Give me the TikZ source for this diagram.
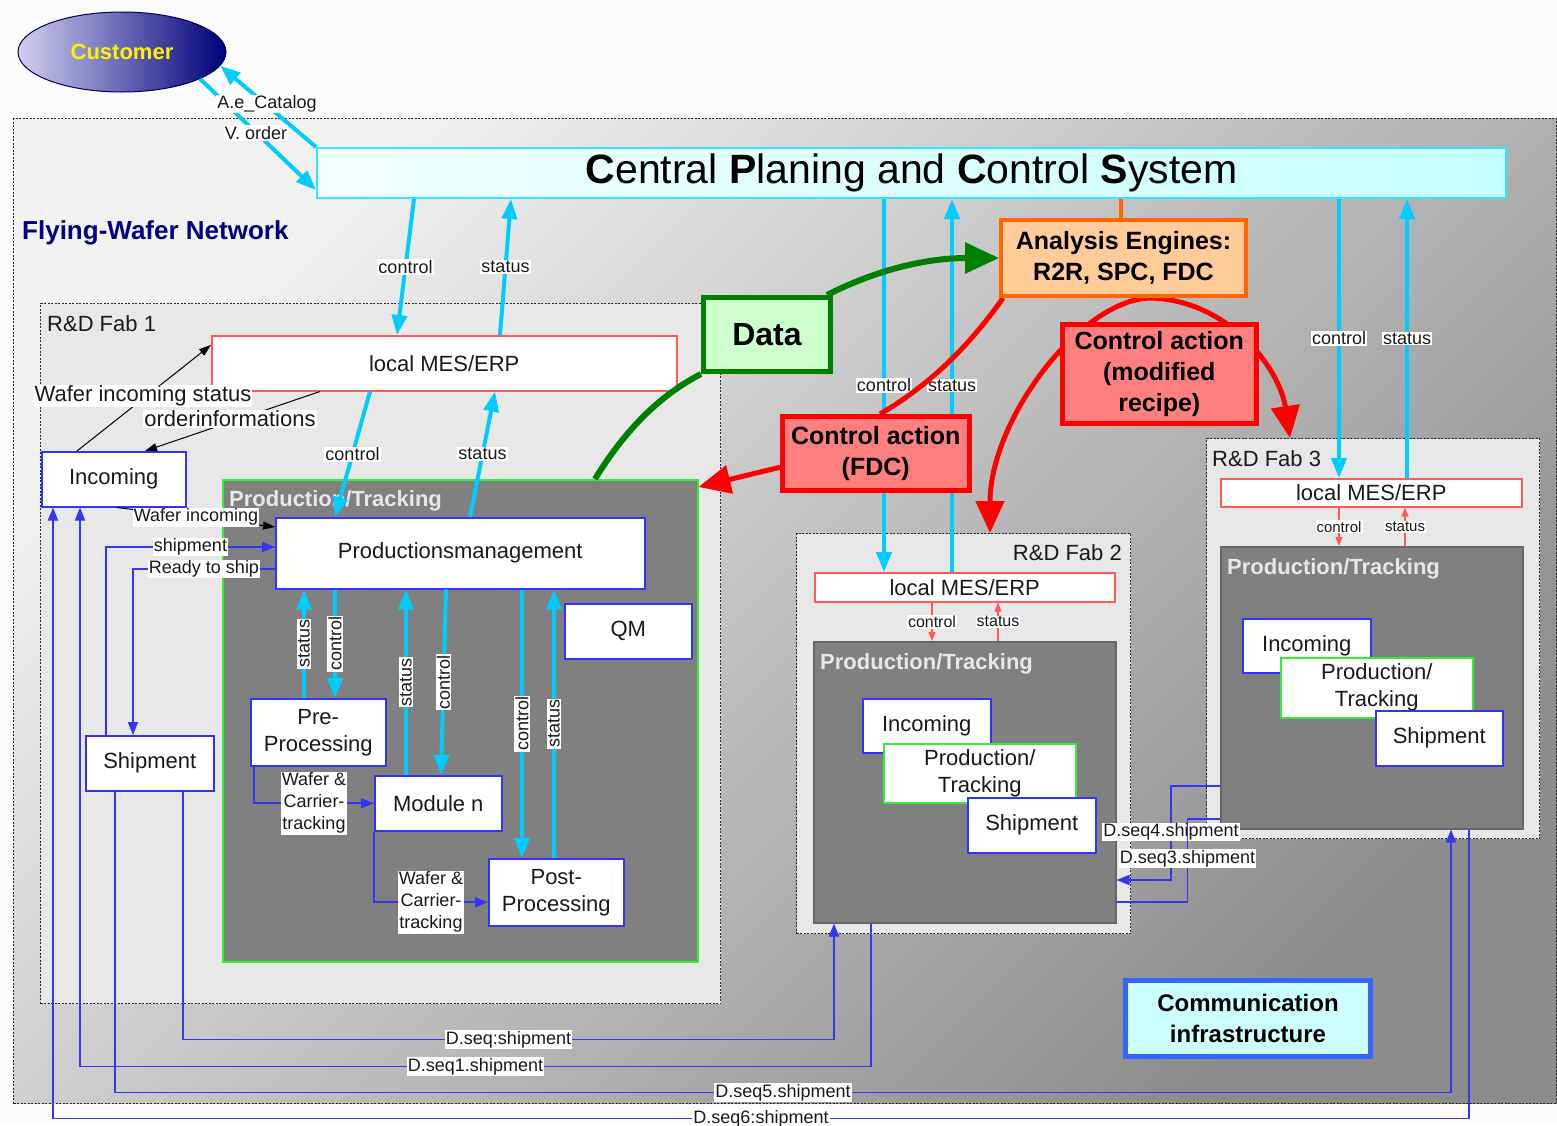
\documentclass[tikz,border=0pt]{standalone}
\usepackage{fontspec}
\setmainfont{Liberation Sans}
\usetikzlibrary{arrows.meta,shapes.geometric}
\pgfdeclarelayer{top}
\pgfsetlayers{main,top}
\definecolor{cy}{HTML}{00CCFF}
\definecolor{bordblue}{HTML}{3333FF}
\definecolor{lnblue}{HTML}{3535F5}
\definecolor{mesred}{HTML}{FF5A5A}
\definecolor{fabfill}{HTML}{E8E8E8}
\definecolor{prodfill}{HTML}{808080}
\definecolor{lgreen}{HTML}{33EE33}
\definecolor{dgreen}{HTML}{007F00}
\definecolor{datafill}{HTML}{CCFFCC}
\definecolor{anafill}{HTML}{FFCC99}
\definecolor{anaborder}{HTML}{FF6600}
\definecolor{salmon}{HTML}{FF7F7F}
\definecolor{commfill}{HTML}{CCFFFF}
\definecolor{commborder}{HTML}{3366FF}
\definecolor{netA}{HTML}{F2F2F2}
\definecolor{netB}{HTML}{ABABAB}
\definecolor{netC}{HTML}{8C8C8C}
\definecolor{cpsA}{HTML}{F2FFFF}
\definecolor{cpsB}{HTML}{C6FFFF}
\definecolor{cpsborder}{HTML}{33E6FF}
\definecolor{custA}{HTML}{D0D0F0}
\definecolor{custB}{HTML}{00007A}
\definecolor{navy}{HTML}{000080}
\definecolor{txt}{HTML}{1A1A1A}
\definecolor{ptlabel}{HTML}{E8E8E8}
\newcommand\fsz[2]{\fontsize{#1}{#2}\selectfont}
\begin{document}
\begin{tikzpicture}[x=1pt,y=-1pt,
  wbox/.style={draw=bordblue, fill=white, line width=1.5pt, inner sep=0pt, anchor=north west, font=\fsz{22}{27}, align=center, text=txt},
  mesbox/.style={draw=mesred, fill=white, line width=1.5pt, inner sep=0pt, anchor=north west, font=\fsz{22}{27}, text=txt},
  fabbox/.style={draw=black!85, dash pattern=on 2pt off 1.5pt, line width=1.1pt, fill=fabfill, anchor=north west, inner sep=0pt},
  prodbox/.style={fill=prodfill, line width=1.5pt, anchor=north west, inner sep=0pt},
  ptlbl/.style={anchor=base west, text=ptlabel, font=\fsz{22}{26}\bfseries, inner sep=0pt},
  fablbl/.style={font=\fsz{22}{26}, text=txt, inner sep=0pt},
  lbl/.style={fill=white, inner sep=1pt, font=\fsz{18}{22}, text=txt, align=center},
  lblsm/.style={fill=white, inner sep=1pt, font=\fsz{16}{19}, text=txt},
  cyarr/.style={draw=cy, line width=4pt, -{Triangle[length=20pt,width=15pt]}},
  bluearr/.style={draw=lnblue, line width=1.8pt, -{Triangle[length=13pt,width=10pt]}},
  blueln/.style={draw=lnblue, line width=1.8pt},
  blackarr/.style={draw=black, line width=1pt, -{Triangle[length=12pt,width=8pt]}},
  redsm/.style={draw=mesred, line width=1.3pt, -{Triangle[length=9pt,width=7pt]}},
  redthick/.style={draw=red, line width=5pt, -{Triangle[length=32pt,width=28pt]}},
  bigbox/.style={line width=4.5pt, inner sep=0pt, anchor=north west, align=center, text=black, font=\fsz{25}{31}\bfseries},
]
\fill[white!97!gray] (0,0) rectangle (1557,1125);
\useasboundingbox (0,0) rectangle (1557,1125);

% network area
\node[anchor=north west, inner sep=0pt, minimum width=1543pt, minimum height=985pt,
  top color=netA, middle color=netB, bottom color=netC, shading angle=45,
  draw=black!85, dash pattern=on 2pt off 1.5pt, line width=1.3pt] (net) at (13,118) {};
\node[anchor=base west, inner sep=0pt, text=navy, font=\fsz{26}{30}\bfseries] (fwn) at (22,239) {Flying-Wafer Network};

% fabs
\node[fabbox, minimum width=680pt, minimum height=700pt] (fab1) at (40,303) {};
\node[fablbl, anchor=base west] (fab1l) at (47,331) {R\&D Fab 1};
\node[fabbox, minimum width=334pt, minimum height=400pt] (fab2) at (796,533) {};
\node[fablbl, anchor=base east] (fab2l) at (1122,560) {R\&D Fab 2};
\node[fabbox, minimum width=333pt, minimum height=400pt] (fab3) at (1206,438) {};
\node[fablbl, anchor=base west] (fab3l) at (1212,466) {R\&D Fab 3};

% fab 1 contents
\node[mesbox, minimum width=465pt, minimum height=55pt] (mes1) at (211,335) {local MES/ERP};
\node[wbox, minimum width=144pt, minimum height=55pt] (inc1) at (41,451) {Incoming};
\node[wbox, minimum width=128pt, minimum height=55pt] (ship1) at (85,735) {Shipment};
\node[prodbox, draw=lgreen, minimum width=475pt, minimum height=482pt] (prod1) at (222,479) {};
\node[ptlbl] (prod1l) at (229,506) {Production/Tracking};
\node[wbox, minimum width=369pt, minimum height=71pt] (pm) at (275,517) {Productionsmanagement};
\node[wbox, minimum width=127pt, minimum height=55pt] (qm) at (564,603) {QM};
\node[wbox, minimum width=135pt, minimum height=67pt] (pre) at (250,698) {Pre-\\Processing};
\node[wbox, minimum width=127pt, minimum height=55pt] (mod) at (374,775) {Module n};
\node[wbox, minimum width=135pt, minimum height=67pt] (post) at (488,858) {Post-\\Processing};

% fab 2 contents
\node[mesbox, minimum width=300pt, minimum height=29pt] (mes2) at (814,572) {local MES/ERP};
\node[prodbox, draw=black!60, minimum width=302pt, minimum height=281pt] (prod2) at (813,641) {};
\node[ptlbl] (prod2l) at (820,669) {Production/Tracking};
\node[wbox, minimum width=128pt, minimum height=54pt] (inc2) at (862,698) {Incoming};
\node[wbox, draw=lgreen, minimum width=192pt, minimum height=59pt] (pt2) at (883,743) {Production/\\Tracking};
\node[wbox, minimum width=128pt, minimum height=55pt] (sh2) at (967,797) {Shipment};

% fab 3 contents
\node[mesbox, minimum width=301pt, minimum height=28pt] (mes3) at (1220,478) {local MES/ERP};
\node[prodbox, draw=black!60, minimum width=302pt, minimum height=282pt] (prod3) at (1220,546) {};
\node[ptlbl] (prod3l) at (1227,574) {Production/Tracking};
\node[wbox, minimum width=128pt, minimum height=54pt] (inc3) at (1242,618) {Incoming};
\node[wbox, draw=lgreen, minimum width=192pt, minimum height=60pt] (pt3) at (1280,657) {Production/\\Tracking};
\node[wbox, minimum width=127pt, minimum height=55pt] (sh3) at (1375,710) {Shipment};

% central system and customer
\node[anchor=north west, inner sep=0pt, minimum width=1189pt, minimum height=50pt,
  left color=cpsA, right color=cpsB, draw=cpsborder, line width=2pt,
  font=\fsz{41}{44}, text=black] (cps) at (316,147)
  {{\bfseries C}entral {\bfseries P}laning and {\bfseries C}ontrol {\bfseries S}ystem};
\node[ellipse, minimum width=208pt, minimum height=80pt, inner sep=0pt,
  left color=custA, right color=custB, draw=custB!70!black, line width=1pt,
  text=yellow, font=\fsz{22}{26}\bfseries] (cust) at (122,52) {Customer};

% boxes on the top layer
\begin{pgfonlayer}{top}
\node[bigbox, draw=dgreen, fill=datafill, line width=5pt, minimum width=127pt, minimum height=74pt, font=\fsz{32}{36}\bfseries] (data) at (701,295) {Data};
\node[bigbox, draw=anaborder, fill=anafill, line width=4pt, minimum width=245pt, minimum height=76pt] (ana) at (999,218) {Analysis Engines:\\R2R, SPC, FDC};
\node[bigbox, draw=red, fill=salmon, minimum width=187pt, minimum height=74pt] (fdc) at (780,414) {Control action\\(FDC)};
\node[bigbox, draw=red, fill=salmon, minimum width=194pt, minimum height=99pt] (rec) at (1060,322) {Control action\\(modified\\recipe)};
\node[bigbox, draw=commborder, fill=commfill, line width=5pt, minimum width=245pt, minimum height=76pt, font=\fsz{24}{31}\bfseries] (comm) at (1123,978) {Communication\\infrastructure};
\end{pgfonlayer}

% customer <-> central
\draw[cyarr] (cust.-19) -- ([yshift=9pt]cps.south west);
\draw[cyarr] (cps.north west) -- (cust.-8);
\node[lbl] (lcat) at (267,104) {A.e\_Catalog};
\node[lbl] (lvo) at (256,133) {V. order};

% central <-> fab 1
\draw[cyarr] ([xshift=98pt]cps.south west) -- node[lbl]{control} ([xshift=186pt]mes1.north west);
\draw[cyarr] ([xshift=289pt]mes1.north west) -- node[lbl]{status} ([xshift=195pt]cps.south west);

% incoming <-> mes1
\draw[blackarr] ([xshift=36pt]inc1.north west) -- ([yshift=-10pt]mes1.north west);
\draw[blackarr] ([xshift=109pt]mes1.south west) -- ([xshift=104pt]inc1.north west);
\node[lbl, font=\fsz{22}{26}] (lwis) at (143,396) {Wafer incoming status};
\node[lbl, font=\fsz{22}{26}] (lord) at (230,419) {orderinformations};

% mes1 <-> pm
\draw[cyarr] ([xshift=159pt]mes1.south west) -- node[lbl]{control} ([xshift=60pt]pm.north west);
\draw[cyarr] ([xshift=195pt]pm.north west) -- node[lbl]{status} ([xshift=284pt]mes1.south west);

% incoming / shipment <-> pm
\draw[blackarr] ([xshift=76pt]inc1.south west) -- node[lbl, pos=0.5]{Wafer incoming} ([yshift=-10pt]pm.north west);
\draw[bluearr] ([xshift=21pt]ship1.north west) |- node[lbl, pos=0.75]{shipment} ([yshift=-30pt]pm.north west);
\draw[bluearr] ([yshift=-52pt]pm.north west) -| node[lbl, pos=0.25]{Ready to ship} ([xshift=48pt]ship1.north west);

% pm <-> modules
\draw[cyarr] ([xshift=54pt]pre.north west) -- node[lbl, rotate=90]{status} ([xshift=29pt]pm.south west);
\draw[cyarr] ([xshift=60pt]pm.south west) -- node[lbl, rotate=90]{control} ([xshift=85pt]pre.north west);
\draw[cyarr] ([xshift=32pt]mod.north west) -- node[lbl, rotate=90]{status} ([xshift=131pt]pm.south west);
\draw[cyarr] ([xshift=171pt]pm.south west) -- node[lbl, rotate=90]{control} ([xshift=67pt]mod.north west);
\draw[cyarr] ([xshift=247pt]pm.south west) -- node[lbl, rotate=90]{control} ([xshift=34pt]post.north west);
\draw[cyarr] ([xshift=66pt]post.north west) -- node[lbl, rotate=90]{status} ([xshift=279pt]pm.south west);

% wafer & carrier tracking
\draw[bluearr] ([xshift=4pt]pre.south west) |- node[lbl, pos=0.75]{Wafer \&\\Carrier-\\tracking} (mod.west);
\draw[bluearr] (mod.south west) |- node[lbl, pos=0.75]{Wafer \&\\Carrier-\\tracking} ([yshift=-10pt]post.west);

% central <-> fab 2 / fab 3
\draw[cyarr] ([xshift=568pt]cps.south west) -- node[lbl]{control} ([xshift=70pt]mes2.north west);
\draw[cyarr] ([xshift=138pt]mes2.north west) -- node[lbl]{status} ([xshift=636pt]cps.south west);
\draw[cyarr] ([xshift=1023pt]cps.south west) -- node[lbl]{control} ([xshift=119pt]mes3.north west);
\draw[cyarr] ([xshift=187pt]mes3.north west) -- node[lbl]{status} ([xshift=1091pt]cps.south west);

% local mes <-> production
\draw[redsm] ([xshift=118pt]mes2.south west) -- node[lblsm]{control} ([xshift=119pt]prod2.north west);
\draw[redsm] ([xshift=185pt]prod2.north west) -- node[lblsm]{status} ([xshift=184pt]mes2.south west);
\draw[redsm] ([xshift=119pt]mes3.south west) -- node[lblsm, font=\fsz{15}{18}]{control} ([xshift=119pt]prod3.north west);
\draw[redsm] ([xshift=185pt]prod3.north west) -- node[lblsm, font=\fsz{15}{18}]{status} ([xshift=185pt]mes3.south west);

% shipments between fabs
\draw[bluearr] ([xshift=98pt]ship1.south west) -- ++(0,248) -| node[lbl, pos=0.25]{D.seq:shipment} ([xshift=21pt]prod2.south west);
\draw[bluearr] ([xshift=58pt]prod2.south west) -- ++(0,143) -| node[lbl, pos=0.25]{D.seq1.shipment} ([xshift=39pt]inc1.south west);
\draw[bluearr] ([xshift=30pt]ship1.south west) -- ++(0,301) -| node[lbl, pos=0.25]{D.seq5.shipment} ([xshift=231pt]prod3.south west);
\draw[bluearr] ([xshift=249pt]prod3.south west) -- ++(0,289) -| node[lbl, pos=0.25]{D.seq6:shipment} ([xshift=12pt]inc1.south west);
\draw[bluearr] ([yshift=-240pt]prod3.north west) -- ++(-49,0) |- node[lbl, pos=0.245]{D.seq4.shipment} ([yshift=-239pt]prod2.north east);
\draw[blueln] ([yshift=-261pt]prod2.north east) -- ++(71,0) |- node[lbl, pos=0.26]{D.seq3.shipment} ([yshift=-273pt]prod3.north west);

% data flow
\draw[dgreen, line width=6pt] ([xshift=373pt]prod1.north west) .. controls (625,430) and (660,395) .. (data.south west);
\draw[dgreen, line width=6pt, -{Triangle[length=34pt,width=30pt]}] ([xshift=-6pt]data.north east) .. controls (880,268) and (930,258) .. (ana.west);
\draw[anaborder, line width=4pt] ([xshift=122pt]ana.north west) -- ([xshift=805pt]cps.south west);

% control actions
\draw[redthick, -] ([xshift=4pt]ana.south west) .. controls (970,345) and (930,385) .. ([xshift=100pt]fdc.north west);
\draw[redthick] ([yshift=-14pt]fdc.west) -- ([yshift=-8pt]prod1.north east);
\draw[redthick] ([xshift=151pt]ana.south west) .. controls (1080,300) and (990,420) .. ([xshift=194pt]fab2.north west);
\draw[redthick] ([xshift=151pt]ana.south west) .. controls (1230,300) and (1280,370) .. ([xshift=84pt]fab3.north west);
\end{tikzpicture}
\end{document}
